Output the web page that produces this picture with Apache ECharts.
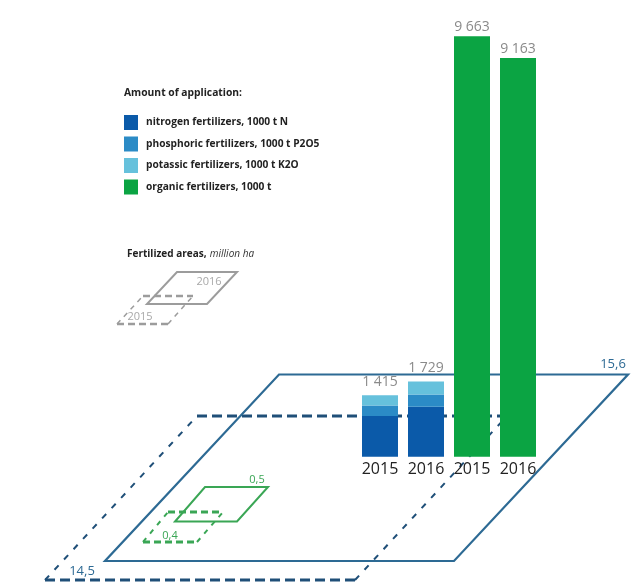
<!DOCTYPE html>
<html><head><meta charset="utf-8">
<script src="https://cdn.jsdelivr.net/npm/echarts@6/dist/echarts.min.js"></script>
<style>html,body{margin:0;padding:0;background:#fff}#c{width:641px;height:584px}</style>
</head><body><div id="c"></div>
<script>
// ---- data ----
const categories = ['2015', '2016', '2015', '2016'];
const nitrogen   = [935, 1149, '-', '-'];
const phosphoric = [240, 280, '-', '-'];
const potassic   = [240, 300, '-', '-'];
const organic    = ['-', '-', 9663, 9163];
const mineralTotals = [1415, 1729];
const areaYears = ['2015', '2016'];
const areaTotal = [14.5, 15.6];      // million ha, all fertilized
const areaOrganic = [0.4, 0.5];      // million ha, organic
const seriesNames = [
  'nitrogen fertilizers, 1000 t N',
  'phosphoric fertilizers, 1000 t P2O5',
  'potassic fertilizers, 1000 t K2O',
  'organic fertilizers, 1000 t'
];

// ---- styles ----
const C = {
  n: '#0b5aa9', p: '#2b8bc6', k: '#66c1dc', o: '#0ba443',
  plane: '#2d6a94', planeDash: '#1f4f78', green: '#3aa655', gray: '#9c9c9c',
  lbl: '#8a8a8a'
};
const fmtThousands = v => String(v).replace(/\B(?=(\d{3})+(?!\d))/g, ' ');
const fmtDec = v => v.toFixed(1).replace('.', ',');

function seg(x1, y1, x2, y2, color, w, dash) {
  return { type: 'line', z: 0, silent: true,
    shape: { x1, y1, x2, y2 },
    style: { stroke: color, lineWidth: w, lineDash: dash || null, fill: null } };
}
function quad(pts, color, w) {
  return { type: 'polygon', z: 0, silent: true, shape: { points: pts },
    style: { stroke: color, lineWidth: w, fill: null } };
}
function dashedQuad(tl, tr, br, bl, color, wh, ws, dh, ds) {
  return [
    seg(tl[0], tl[1], tr[0], tr[1], color, wh, dh),
    seg(bl[0], bl[1], br[0], br[1], color, wh, dh),
    seg(bl[0], bl[1], tl[0], tl[1], color, ws, ds),
    seg(br[0], br[1], tr[0], tr[1], color, ws, ds)
  ];
}
function txt(x, y, s, color, size, align) {
  return { type: 'text', z: 1, silent: true, x, y,
    style: { text: s, fill: color, fontSize: size, fontFamily: 'Open Sans',
      align: align || 'left', verticalAlign: 'middle' } };
}

const graphics = [
  // big planes (2015 dashed, 2016 solid)
  ...dashedQuad([197, 416], [507, 416], [355, 580], [45, 580], C.planeDash, 3, 2, [10, 5], [6, 8]),
  quad([[279, 374.5], [628, 374.5], [454, 561], [105, 561]], C.plane, 2.2),
  txt(613, 364, fmtDec(areaTotal[1]), C.plane, 13, 'center'),
  txt(82, 571, fmtDec(areaTotal[0]), C.plane, 13, 'center'),
  // organic planes
  ...dashedQuad([168, 512], [223, 512], [197, 542], [143, 542], C.green, 3, 2, [7, 4], [5, 6]),
  quad([[205, 487], [268, 487], [237, 521.5], [175, 521.5]], C.green, 2),
  txt(257, 480, fmtDec(areaOrganic[1]), C.green, 11, 'center'),
  txt(170, 536, fmtDec(areaOrganic[0]), C.green, 11, 'center'),
  // small legend icon
  ...dashedQuad([143, 296], [193, 296], [168, 324], [117, 324], C.gray, 2.5, 1.5, [7, 4], [5, 5]),
  quad([[177, 272], [237, 272], [207, 304], [147, 304]], C.gray, 2),
  txt(209, 281.5, areaYears[1], '#a8a8a8', 11, 'center'),
  txt(140, 317, areaYears[0], '#a8a8a8', 11, 'center'),
  { type: 'text', z: 1, silent: true, x: 127, y: 254,
    style: { text: '{b|Fertilized areas,} {i|million ha}', verticalAlign: 'middle',
      rich: { b: { fontWeight: 'bold', fontSize: 10, fill: '#222', fontFamily: 'Open Sans' },
              i: { fontStyle: 'italic', fontSize: 10, fill: '#333', fontFamily: 'Open Sans' } } } }
];

const chart = echarts.init(document.getElementById('c'), null, { renderer: 'canvas' });
const base = { type: 'bar', stack: 'all', barWidth: 36, z: 2, silent: true };
chart.setOption({
  backgroundColor: '#ffffff',
  animation: false,
  title: { text: 'Amount of application:', left: 124, top: 88, padding: 0,
    textStyle: { fontSize: 10.3, fontWeight: 'bold', color: '#222', fontFamily: 'Open Sans' } },
  legend: {
    orient: 'vertical', left: 124, top: 115, padding: 0, itemWidth: 14, itemHeight: 15, itemGap: 6.5,
    icon: 'rect', selectedMode: false,
    textStyle: { fontSize: 10.2, fontWeight: 'bold', color: '#222', fontFamily: 'Open Sans', padding: [0, 0, 0, 3] },
    data: seriesNames
  },
  grid: { left: 357, right: 100, top: 21.7, bottom: 127.3, containLabel: false },
  xAxis: {
    type: 'category', data: categories,
    axisLine: { show: false }, axisTick: { show: false },
    axisLabel: { fontSize: 16, color: '#222', margin: 5, fontFamily: 'Open Sans', interval: 0 }
  },
  yAxis: { type: 'value', min: 0, max: 10000, show: false, splitLine: { show: false } },
  graphic: graphics,
  series: [
    Object.assign({}, base, { name: seriesNames[0], data: nitrogen, itemStyle: { color: C.n } }),
    Object.assign({}, base, { name: seriesNames[1], data: phosphoric, itemStyle: { color: C.p } }),
    Object.assign({}, base, { name: seriesNames[2], data: potassic, itemStyle: { color: C.k },
      label: { show: true, position: 'top', distance: 6, fontSize: 14, color: C.lbl, fontFamily: 'Open Sans',
        formatter: p => fmtThousands(mineralTotals[p.dataIndex]) } }),
    Object.assign({}, base, { name: seriesNames[3], data: organic, itemStyle: { color: C.o },
      label: { show: true, position: 'top', distance: 2, fontSize: 14, color: C.lbl, fontFamily: 'Open Sans',
        formatter: p => fmtThousands(p.value) } })
  ]
});
</script></body></html>
